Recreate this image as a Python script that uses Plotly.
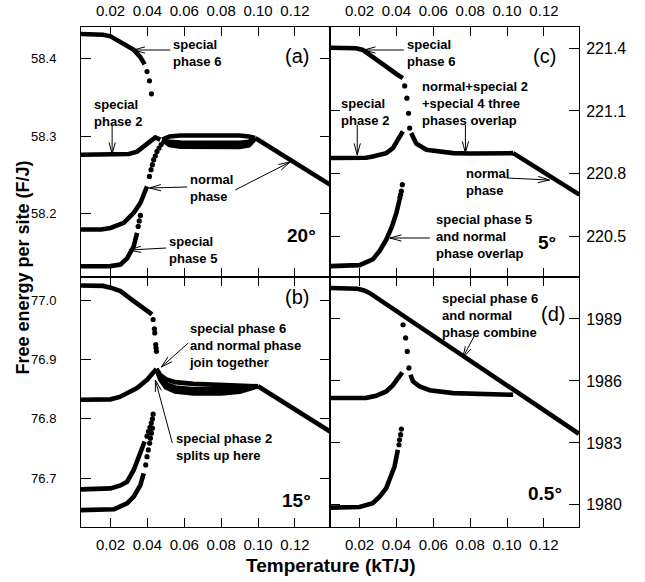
import math
import plotly.graph_objects as go

# ---------------- data: temperature (kT/J) and free energy per site (F/J) ----------------
# panel (a), 20 degrees
a_sp6_T = [0.004, 0.012, 0.016, 0.020, 0.0236, 0.028, 0.0326, 0.036, 0.0385]
a_sp6_F = [58.431, 58.431, 58.430, 58.428, 58.4235, 58.417, 58.4107, 58.402, 58.392]
a_sp6_dots_T = [0.0398, 0.0411, 0.0422]
a_sp6_dots_F = [58.3828, 58.3709, 58.3542]

a_sp2_T = [0.004, 0.015, 0.025, 0.030, 0.0344, 0.0375, 0.0398, 0.042, 0.0443, 0.047]
a_sp2_F = [58.276, 58.276, 58.276, 58.277, 58.280, 58.2855, 58.291, 58.295, 58.2982, 58.2955]

a_band_T = [0.048, 0.052, 0.058, 0.070, 0.080, 0.090, 0.095, 0.0984]
a_band_top_F = [58.2955, 58.2995, 58.3006, 58.3009, 58.3009, 58.3006, 58.2995, 58.2974]
a_band_mid_F = [58.2953, 58.2925, 58.2915, 58.2912, 58.2912, 58.2914, 58.2925, 58.2970]
a_band_low_F = [58.2950, 58.2885, 58.2862, 58.2856, 58.2856, 58.2860, 58.2880, 58.2965]

a_norm_hi_T = [0.0984, 0.100, 0.139]
a_norm_hi_F = [58.2972, 58.2953, 58.2376]

a_norm_T = [0.004, 0.015, 0.020, 0.0272, 0.0326, 0.0362, 0.0398]
a_norm_F = [58.180, 58.180, 58.182, 58.1885, 58.2013, 58.214, 58.2354]
a_norm_dots_T = [0.0411, 0.0420, 0.0427, 0.0434, 0.0443, 0.0452, 0.0463, 0.0475]
a_norm_dots_F = [58.2482, 58.2568, 58.2632, 58.2696, 58.2747, 58.2803, 58.2846, 58.2890]

a_sp5_T = [0.004, 0.015, 0.020, 0.0254, 0.029, 0.0326, 0.0344]
a_sp5_F = [58.1328, 58.1328, 58.133, 58.135, 58.143, 58.1585, 58.1756]
a_sp5_dots_T = [0.0350, 0.0356, 0.0362]
a_sp5_dots_F = [58.184, 58.191, 58.198]

# panel (b), 15 degrees
b_sp6_T = [0.004, 0.012, 0.016, 0.020, 0.0254, 0.0326, 0.0398, 0.0425]
b_sp6_F = [77.0248, 77.0248, 77.024, 77.021, 77.0152, 76.9983, 76.9814, 76.976]
b_sp6_dots_T = [0.0431, 0.0438, 0.0440, 0.0445, 0.0447, 0.0449]
b_sp6_dots_F = [76.9674, 76.9517, 76.9449, 76.9252, 76.9196, 76.9139]

b_sp2_T = [0.004, 0.015, 0.020, 0.025, 0.029, 0.0344, 0.0398, 0.0425, 0.0449]
b_sp2_F = [76.8323, 76.8323, 76.833, 76.837, 76.8436, 76.852, 76.866, 76.8745, 76.884]

b_band_T = [0.0449, 0.047, 0.050, 0.055, 0.065, 0.080, 0.090, 0.100]
b_band_top_F = [76.884, 76.874, 76.867, 76.862, 76.859, 76.857, 76.856, 76.855]
b_band_mid_F = [76.884, 76.869, 76.859, 76.853, 76.850, 76.850, 76.851, 76.855]
b_band_low_F = [76.884, 76.866, 76.853, 76.846, 76.843, 76.843, 76.846, 76.855]

b_norm_hi_T = [0.100, 0.139]
b_norm_hi_F = [76.855, 76.7787]

b_n1_T = [0.004, 0.015, 0.020, 0.0254, 0.029, 0.0326, 0.0362, 0.0385]
b_n1_F = [76.6814, 76.6814, 76.683, 76.688, 76.6943, 76.714, 76.742, 76.762]
b_n1_dots_T = [0.0398, 0.0406, 0.0414, 0.0421, 0.0427, 0.0431]
b_n1_dots_F = [76.771, 76.779, 76.786, 76.793, 76.800, 76.808]

b_n2_T = [0.004, 0.017, 0.022, 0.029, 0.0326, 0.0362, 0.038]
b_n2_F = [76.6465, 76.6465, 76.648, 76.6578, 76.669, 76.6887, 76.7085]
b_n2_dots_T = [0.0391, 0.0398, 0.0405, 0.0412, 0.0416, 0.0422, 0.0427]
b_n2_dots_F = [76.7225, 76.7365, 76.7478, 76.7591, 76.7675, 76.776, 76.7845]

# panel (c), 5 degrees
c_sp6_T = [0.004, 0.0146, 0.0182, 0.0218, 0.0282, 0.0345, 0.040, 0.0435]
c_sp6_F = [221.403, 221.403, 221.400, 221.392, 221.355, 221.312, 221.277, 221.257]
c_sp6_dots_T = [0.0445, 0.0457, 0.0466, 0.0472]
c_sp6_dots_F = [221.220, 221.161, 221.089, 221.018]

c_sp2_T = [0.004, 0.020, 0.0236, 0.0272, 0.0345, 0.0381, 0.0417, 0.0435]
c_sp2_F = [220.8745, 220.8745, 220.876, 220.882, 220.898, 220.922, 220.970, 221.002]

c_mix_T = [0.0480, 0.0508, 0.0563, 0.062, 0.0707, 0.080, 0.090, 0.1033]
c_mix_F = [220.994, 220.943, 220.914, 220.906, 220.898, 220.896, 220.896, 220.898]

c_norm_hi_T = [0.1033, 0.1392]
c_norm_hi_F = [220.898, 220.6995]

c_sp5_T = [0.004, 0.0146, 0.020, 0.0272, 0.0309, 0.0345, 0.0375, 0.040, 0.0417]
c_sp5_F = [220.357, 220.357, 220.362, 220.389, 220.430, 220.484, 220.545, 220.612, 220.675]
c_sp5_dots_T = [0.0419, 0.0423, 0.0427, 0.0432]
c_sp5_dots_F = [220.685, 220.700, 220.716, 220.747]

# panel (d), 0.5 degrees
d_top_T = [0.004, 0.015, 0.019, 0.0225, 0.0254, 0.139]
d_top_F = [1990.50, 1990.50, 1990.46, 1990.38, 1990.26, 1983.44]
d_dots_T = [0.0436, 0.0450, 0.0459, 0.0468]
d_dots_F = [1988.72, 1988.08, 1987.43, 1986.63]

d_sp2_T = [0.004, 0.020, 0.0237, 0.029, 0.0345, 0.038, 0.0417, 0.0432]
d_sp2_F = [1985.17, 1985.17, 1985.18, 1985.28, 1985.49, 1985.78, 1986.22, 1986.41]
d_mix_T = [0.0476, 0.049, 0.0526, 0.058, 0.0707, 0.085, 0.1033]
d_mix_F = [1986.30, 1985.98, 1985.73, 1985.55, 1985.41, 1985.36, 1985.33]

d_low_T = [0.004, 0.0146, 0.020, 0.0272, 0.0309, 0.0345, 0.0372, 0.039, 0.0408]
d_low_F = [1979.87, 1979.87, 1979.90, 1980.08, 1980.40, 1980.81, 1981.37, 1981.86, 1982.67]
d_low_dots_T = [0.0414, 0.0417, 0.0423, 0.0427]
d_low_dots_F = [1982.91, 1983.15, 1983.40, 1983.67]

# axis ticks
x_ticks = [0.02, 0.04, 0.06, 0.08, 0.10, 0.12]
a_yticks = [58.2, 58.3, 58.4]
b_yticks = [76.7, 76.8, 76.9, 77.0]
c_yticks = [220.5, 220.8, 221.1, 221.4]
d_yticks = [1980, 1983, 1986, 1989]

# ---------------- figure ----------------
W, H = 645, 582
ML, MR, MT, MB = 80.5, 65.5, 27, 55
PW, PH = W - ML - MR, H - MT - MB

FONT = "Liberation Sans, Arial, Helvetica, sans-serif"
LW = 4.6
MS = 5.2

fig = go.Figure()

# panel -> (xaxis ref, yaxis ref)
P = {"a": ("x", "y"), "b": ("x2", "y2"), "c": ("x3", "y3"), "d": ("x4", "y4")}


def curve(p, T, F):
    xr, yr = P[p]
    fig.add_trace(go.Scatter(x=T, y=F, mode="lines", xaxis=xr, yaxis=yr,
                             line=dict(color="black", width=LW), showlegend=False,
                             hoverinfo="skip"))


def dots(p, T, F):
    xr, yr = P[p]
    fig.add_trace(go.Scatter(x=T, y=F, mode="markers", xaxis=xr, yaxis=yr,
                             marker=dict(color="black", size=MS), showlegend=False,
                             hoverinfo="skip"))


# (a)
curve("a", a_sp6_T, a_sp6_F); dots("a", a_sp6_dots_T, a_sp6_dots_F)
curve("a", a_sp2_T, a_sp2_F)
curve("a", a_band_T, a_band_top_F)
curve("a", a_band_T, a_band_mid_F)
curve("a", a_band_T, a_band_low_F)
curve("a", a_norm_hi_T, a_norm_hi_F)
curve("a", a_norm_T, a_norm_F); dots("a", a_norm_dots_T, a_norm_dots_F)
curve("a", a_sp5_T, a_sp5_F); dots("a", a_sp5_dots_T, a_sp5_dots_F)
# (b)
curve("b", b_sp6_T, b_sp6_F); dots("b", b_sp6_dots_T, b_sp6_dots_F)
curve("b", b_sp2_T, b_sp2_F)
curve("b", b_band_T, b_band_top_F)
curve("b", b_band_T, b_band_mid_F)
curve("b", b_band_T, b_band_low_F)
curve("b", b_norm_hi_T, b_norm_hi_F)
curve("b", b_n1_T, b_n1_F); dots("b", b_n1_dots_T, b_n1_dots_F)
curve("b", b_n2_T, b_n2_F); dots("b", b_n2_dots_T, b_n2_dots_F)
# (c)
curve("c", c_sp6_T, c_sp6_F); dots("c", c_sp6_dots_T, c_sp6_dots_F)
curve("c", c_sp2_T, c_sp2_F)
curve("c", c_mix_T, c_mix_F)
curve("c", c_norm_hi_T, c_norm_hi_F)
curve("c", c_sp5_T, c_sp5_F); dots("c", c_sp5_dots_T, c_sp5_dots_F)
# (d)
curve("d", d_top_T, d_top_F); dots("d", d_dots_T, d_dots_F)
curve("d", d_sp2_T, d_sp2_F)
curve("d", d_mix_T, d_mix_F)
curve("d", d_low_T, d_low_F); dots("d", d_low_dots_T, d_low_dots_F)

XR = [0.004, 0.139]


def xax(domain, anchor, side):
    return dict(domain=domain, anchor=anchor, side=side, range=XR, automargin=False,
                tickvals=x_ticks, tickformat=".2f", ticks="inside", ticklen=9,
                tickcolor="black", mirror="ticks", showline=True, linecolor="black",
                linewidth=1, showgrid=False, zeroline=False,
                tickfont=dict(family=FONT, size=15, color="black"),
                ticklabelstandoff=4)


def yax(domain, anchor, side, rng, vals, fmt, standoff, size):
    return dict(domain=domain, anchor=anchor, side=side, range=rng, automargin=False,
                tickvals=vals, tickformat=fmt, ticks="inside", ticklen=10,
                tickcolor="black", mirror="ticks", showline=True, linecolor="black",
                linewidth=1, showgrid=False, zeroline=False,
                tickfont=dict(family=FONT, size=size, color="black"),
                ticklabelstandoff=standoff)


fig.update_layout(
    width=W, height=H,
    margin=dict(l=ML, r=MR, t=MT, b=MB, autoexpand=False),
    paper_bgcolor="white", plot_bgcolor="white",
    font=dict(family=FONT, color="black"),
    showlegend=False,
    xaxis=xax([0, 0.5], "y", "top"),
    yaxis=yax([0.5, 1], "x", "left", [58.119, 58.440], a_yticks, ".1f", 21, 13),
    xaxis2=xax([0, 0.5], "y2", "bottom"),
    yaxis2=yax([0, 0.5], "x2", "left", [76.618, 77.039], b_yticks, ".1f", 21, 13),
    xaxis3=xax([0.5, 1], "y3", "top"),
    yaxis3=yax([0.5, 1], "x3", "right", [220.305, 221.502], c_yticks, ".1f", 3, 16),
    xaxis4=xax([0.5, 1], "y4", "bottom"),
    yaxis4=yax([0, 0.5], "x4", "right", [1978.93, 1991.03], d_yticks, "d", 3, 16),
)


def px2paper(px, py):
    return (px - ML) / PW, (H - MB - py) / PH


anns = []
shapes = []


def text(px, py, s, size=13, bold=True):
    x, y = px2paper(px, py)
    anns.append(dict(x=x, y=y, xref="paper", yref="paper", text=(f"<b>{s}</b>" if bold else s),
                     showarrow=False, xanchor="left", yanchor="top", align="left",
                     font=dict(family=FONT, size=size, color="black"), borderpad=0))


def seg(x0, y0, x1, y1):
    a0, b0 = px2paper(x0, y0)
    a1, b1 = px2paper(x1, y1)
    shapes.append(dict(type="line", xref="paper", yref="paper", x0=a0, y0=b0, x1=a1, y1=b1,
                       line=dict(color="black", width=1)))


def arrow(tx, ty, hx, hy, barb=12, half_angle=15):
    """Pointer from a label (tail) to a curve (head) with an open two-barb head."""
    seg(tx, ty, hx, hy)
    ang = math.atan2(ty - hy, tx - hx)
    for s in (1, -1):
        a = ang + s * math.radians(half_angle)
        seg(hx, hy, hx + barb * math.cos(a), hy + barb * math.sin(a))


# (a)
text(172, 36, "special<br>phase 6"); arrow(170, 50, 133, 50)
text(93, 96, "special<br>phase 2"); arrow(111.7, 125, 111.7, 154)
text(189, 171, "normal<br>phase"); arrow(187, 187, 149, 188); arrow(235, 190, 290, 162)
text(168, 233, "special<br>phase 5"); arrow(166, 248, 129, 250)
text(284, 44, "(a)", size=20, bold=False)
text(286, 224, "20°", size=19)
# (b)
text(188, 320, "special phase 6<br>and normal phase<br>join together"); arrow(188, 343, 161, 367)
text(175, 430, "special phase 2<br>splits up here"); arrow(172, 443, 155, 380)
text(284, 285, "(b)", size=20, bold=False)
text(281, 489, "15°", size=19)
# (c)
text(406, 36, "special<br>phase 6"); arrow(404, 50, 364, 50)
text(421, 78, "normal+special 2<br>+special 4 three<br>phases overlap"); arrow(465.7, 125, 465.7, 153)
text(340, 95, "special<br>phase 2"); arrow(357.3, 125, 357.3, 155)
text(465, 165, "normal<br>phase"); arrow(507, 178, 550, 180)
text(435, 211, "special phase 5<br>and normal<br>phase overlap"); arrow(430, 238, 390, 238)
text(532, 44, "(c)", size=20, bold=False)
text(537, 231, "5°", size=19)
# (d)
text(441, 290, "special phase 6<br>and normal<br>phase combine"); arrow(475, 335, 463, 358)
text(540, 302, "(d)", size=20, bold=False)
text(527, 482, "0.5°", size=19)

# axis titles
xt, yt = px2paper(331, 565)
anns.append(dict(x=xt, y=yt, xref="paper", yref="paper", text="<b>Temperature (kT/J)</b>",
                 showarrow=False, xanchor="center", yanchor="middle",
                 font=dict(family=FONT, size=19, color="black")))
xt, yt = px2paper(22, 268)
anns.append(dict(x=xt, y=yt, xref="paper", yref="paper", text="<b>Free energy per site (F/J)</b>",
                 showarrow=False, xanchor="center", yanchor="middle", textangle=-90,
                 font=dict(family=FONT, size=18, color="black")))

fig.update_layout(annotations=anns, shapes=shapes)
fig.write_html("out.html")
